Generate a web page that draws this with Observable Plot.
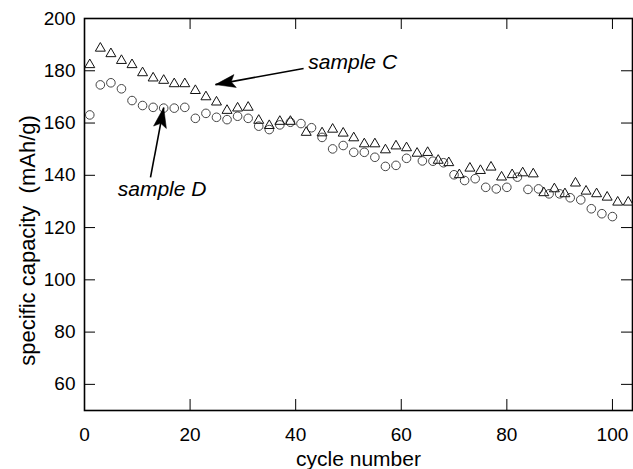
<!DOCTYPE html>
<html>
<head>
<meta charset="utf-8">
<script src="https://cdn.jsdelivr.net/npm/d3@7"></script>
<script src="https://cdn.jsdelivr.net/npm/@observablehq/plot@0.6"></script>
<style>
  html, body { margin: 0; padding: 0; background: #fff; }
  #chart { width: 633px; height: 469px; }
</style>
</head>
<body>
<div id="chart"></div>
<script>
// ---- data ----
const cyclesC = [1,3,5,7,9,11,13,15,17,19,21,23,25,27,29,31,33,35,37,39,42,45,47,49,51,53,55,57,59,61,63,65,67,69,71,73,75,77,79,81,83,85,87,89,91,93,95,97,99,101,103];
const capacityC = [182.3,188.6,186.5,183.9,182.3,179.2,177.2,176.3,175,175,172.4,170,168,164.8,165.7,166,161,159,160.6,160.6,156.4,156.2,157.6,156.1,154.3,152,152,149.7,151.2,150.5,148.4,148.7,145.7,144.8,140.2,142.7,141.8,143.1,139.3,140.2,140.9,140.5,133.3,134.8,132.9,137,133.9,132.9,131.6,129.7,129.7];

const cyclesD = [1,3,5,7,9,11,13,15,17,19,21,23,25,27,29,31,33,35,37,39,41,43,45,47,49,51,53,55,57,59,61,64,66,68,70,72,74,76,78,80,82,84,86,88,90,92,94,96,98,100];
const capacityD = [163.1,174.6,175.4,173.1,168.6,166.7,166,165.7,165.7,166,161.8,163.7,162.2,161.3,162.6,161.8,158.8,157.5,159.3,160.3,159.8,158.2,154.5,150.1,151.4,148.8,148.8,146.9,143.4,143.8,146.5,145.5,145.4,144.8,140.2,138,138.7,135.4,134.8,135.4,139.3,134.6,134.8,132.9,132.9,131.4,130.6,127.2,125.3,124.2];

const xTicks = [0, 20, 40, 60, 80, 100];
const yTicks = [60, 80, 100, 120, 140, 160, 180, 200];
const xTitle = "cycle number";
const yTitle = "specific capacity  (mAh/g)";

// annotation labels and arrows (data units)
const labelNames = ["sample C", "sample D"];
const labelX = [42.4, 6.3];
const labelY = [183.2, 134.6];
const arrowFromX = [41.5, 12.5];
const arrowFromY = [180.9, 139.2];
const arrowToX = [24.8, 15.0];
const arrowToY = [174.7, 165.9];

// ---- layout ----
const W = 633, H = 469;
const mL = 84, mR = 1, mT = 18, mB = 59;
const xDomain = [0, 103.8], yDomain = [50, 200];
const frameW = W - mL - mR, frameH = H - mT - mB;
const tickLen = 11;

const seriesC = cyclesC.map((c, i) => ({cycle: c, cap: capacityC[i]}));
const seriesD = cyclesD.map((c, i) => ({cycle: c, cap: capacityD[i]}));
const labels = labelNames.map((t, i) => ({t, x: labelX[i], y: labelY[i]}));

const sx = Plot.scale({x: {domain: xDomain, range: [mL, W - mR]}});
const sy = Plot.scale({y: {domain: yDomain, range: [H - mB, mT]}});
const arrows = labelNames.map((t, i) => {
  const dx = sx.apply(arrowToX[i]) - sx.apply(arrowFromX[i]);
  const dy = sy.apply(arrowToY[i]) - sy.apply(arrowFromY[i]);
  return {x1: arrowFromX[i], y1: arrowFromY[i], x2: arrowToX[i], y2: arrowToY[i],
          rot: Math.atan2(dx, -dy) * 180 / Math.PI};
});

const arrowHead = {
  draw(ctx) {
    ctx.moveTo(0, 0);
    ctx.lineTo(-6.5, 20);
    ctx.lineTo(0, 16);
    ctx.lineTo(6.5, 20);
    ctx.closePath();
  }
};

const font = "'Liberation Sans', Arial, Helvetica, sans-serif";

const chart = Plot.plot({
  width: W, height: H,
  marginLeft: mL, marginRight: mR, marginTop: mT, marginBottom: mB,
  x: {domain: xDomain, axis: null},
  y: {domain: yDomain, axis: null},
  style: {fontFamily: font, fontSize: "19px", background: "white", color: "black", overflow: "visible"},
  marks: [
    // inward ticks on all four sides
    Plot.tickX(xTicks, {x: d => d, insetTop: frameH - tickLen, stroke: "black", strokeWidth: 1}),
    Plot.tickX(xTicks, {x: d => d, insetBottom: frameH - tickLen, stroke: "black", strokeWidth: 1}),
    Plot.tickY(yTicks, {y: d => d, insetRight: frameW - tickLen, stroke: "black", strokeWidth: 1}),
    Plot.tickY(yTicks, {y: d => d, insetLeft: frameW - tickLen, stroke: "black", strokeWidth: 1}),
    Plot.axisX(xTicks, {anchor: "bottom", tickSize: 0, tickPadding: 17, label: null, fontSize: 19, fill: "black"}),
    Plot.axisY(yTicks, {anchor: "left", tickSize: 0, tickPadding: 9, label: null, fontSize: 19, fill: "black"}),
    Plot.frame({stroke: "black", strokeWidth: 1.6}),
    Plot.text([xTitle], {frameAnchor: "bottom", dy: 49, text: d => d, fontSize: 21, lineAnchor: "middle", textAnchor: "middle", fill: "black"}),
    Plot.text([yTitle], {frameAnchor: "left", dx: -57, dy: 26, text: d => d, fontSize: 22, rotate: -90, lineAnchor: "middle", textAnchor: "middle", fill: "black"}),
    Plot.dot(seriesD, {x: "cycle", y: "cap", r: 4.3, symbol: "circle", fill: "none", stroke: "#444", strokeWidth: 1}),
    Plot.dot(seriesC, {x: "cycle", y: "cap", r: 3.7, symbol: "triangle", fill: "none", stroke: "#111", strokeWidth: 1}),
    Plot.link(arrows, {x1: "x1", y1: "y1", x2: "x2", y2: "y2", stroke: "black", strokeWidth: 1.6}),
    Plot.dot(arrows, {x: "x2", y: "y2", symbol: arrowHead, r: 5, rotate: "rot", fill: "black", stroke: "black", strokeWidth: 0.5}),
    Plot.text(labels, {x: "x", y: "y", text: "t", textAnchor: "start", fontSize: 21, fontStyle: "italic", fill: "black"})
  ]
});
document.getElementById("chart").appendChild(chart);
</script>
</body>
</html>
